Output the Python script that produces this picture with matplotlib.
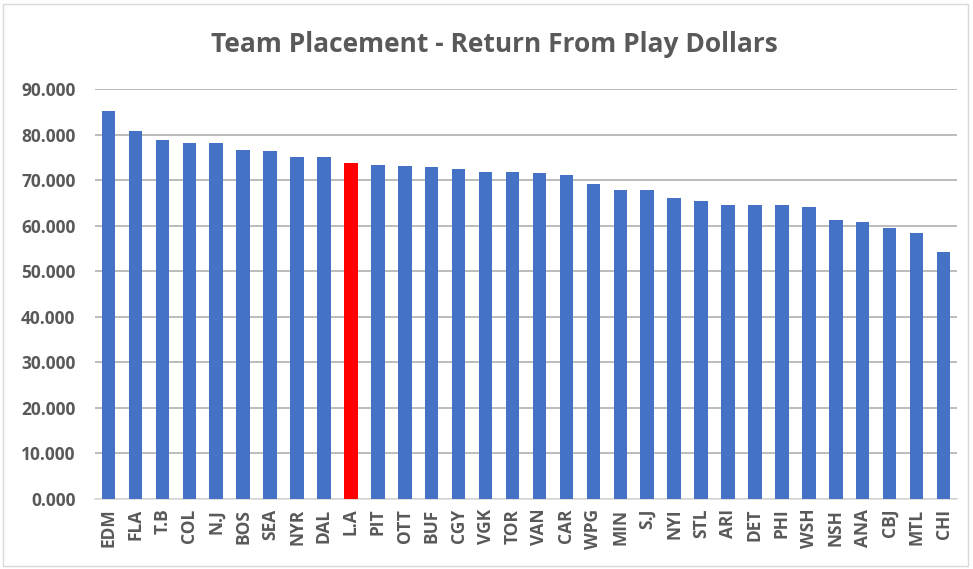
import matplotlib
matplotlib.use("Agg")
import matplotlib.pyplot as plt
from matplotlib.ticker import FuncFormatter, MultipleLocator
from matplotlib.patches import Rectangle

teams = ["EDM", "FLA", "T.B", "COL", "N.J", "BOS", "SEA", "NYR", "DAL", "L.A",
         "PIT", "OTT", "BUF", "CGY", "VGK", "TOR", "VAN", "CAR", "WPG", "MIN",
         "S.J", "NYI", "STL", "ARI", "DET", "PHI", "WSH", "NSH", "ANA", "CBJ",
         "MTL", "CHI"]
values = [85.1, 80.7, 78.8, 78.2, 78.2, 76.7, 76.4, 75.1, 75.1, 73.7,
          73.4, 73.1, 72.8, 72.4, 71.8, 71.8, 71.5, 71.2, 69.1, 67.9,
          67.9, 66.1, 65.5, 64.6, 64.6, 64.6, 64.0, 61.3, 60.7, 59.5,
          58.4, 54.2]
highlight = "L.A"

blue = "#4472C4"
red = "#FF0000"
txt = "#595959"

fig = plt.figure(figsize=(9.73, 5.69), dpi=100)
fig.patch.set_facecolor("white")
ax = fig.add_axes([95/973, 1 - 499/569, (957-95)/973, (499-89)/569])

colors = [red if t == highlight else blue for t in teams]
ax.bar(range(len(teams)), values, width=0.5, color=colors, zorder=3)

ax.set_xlim(-0.5, len(teams) - 0.5)
ax.set_ylim(0, 90)
ax.yaxis.set_major_locator(MultipleLocator(10))
ax.yaxis.set_major_formatter(FuncFormatter(lambda v, p: f"{v:.3f}"))
ax.grid(axis="y", color="#B0B0B0", linewidth=1.2, zorder=0)
for s in ["top", "right", "left"]:
    ax.spines[s].set_visible(False)
ax.spines["bottom"].set_color("#D9D9D9")
ax.spines["bottom"].set_linewidth(1.2)
ax.tick_params(axis="both", length=0, colors=txt)
ax.set_xticks(range(len(teams)))
ax.set_xticklabels(teams, rotation=90, fontsize=12.5, fontweight="bold",
                   family="Open Sans", color=txt)
for lab in ax.get_yticklabels():
    lab.set_fontsize(12.5)
    lab.set_fontweight("bold")
    lab.set_family("Open Sans")
ax.tick_params(axis="y", pad=14)
ax.tick_params(axis="x", pad=7)

fig.text(494/973, 1 - 44/569, "Team Placement - Return From Play Dollars",
         ha="center", va="center", fontsize=19, fontweight="bold",
         family="Open Sans", color=txt)

fig.patches.append(Rectangle((3/973, 3/569), 965/973, 562/569,
                             transform=fig.transFigure, fill=False,
                             edgecolor="#D9D9D9", linewidth=1))

fig.savefig("out.png", dpi=100)
